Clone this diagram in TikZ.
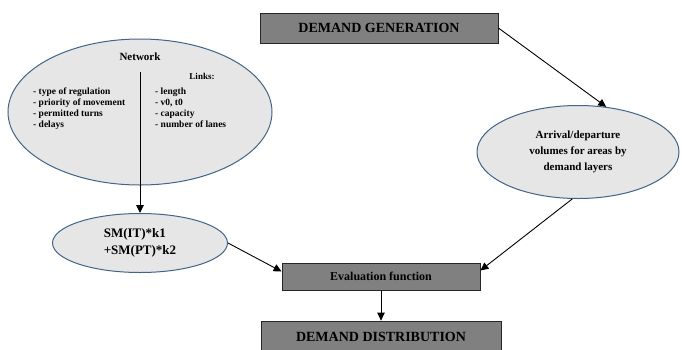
\documentclass[tikz,border=0pt]{standalone}
\usepackage{fontspec}
\setmainfont{Liberation Serif}
\usetikzlibrary{shapes.geometric,arrows.meta}
\begin{document}
\begin{tikzpicture}[x=1pt,y=-1pt,
    graybox/.style={shape=rectangle,draw=black!85,fill=dg_boxgray,line width=0.8pt,font=\bfseries\fontsize{14}{16}\selectfont},
    greyoval/.style={shape=ellipse,draw=dg_ovalline,fill=dg_ovalfill,line width=1pt,inner sep=0pt,font=\bfseries},
    listtext/.style={anchor=north west,align=left,inner sep=0pt,font=\bfseries\fontsize{9.5}{11}\selectfont},
    link/.style={-{Triangle[length=8pt,width=7.5pt]},line width=0.9pt}]
    \definecolor{dg_boxgray}{RGB}{128,128,128}
    \definecolor{dg_ovalfill}{RGB}{230,230,230}
    \definecolor{dg_ovalline}{RGB}{65,100,135}
    \useasboundingbox (0,0) rectangle (682,349);
    % boxes
    \node[graybox,minimum width=238pt,minimum height=30pt] (demgen) at (379,28) {DEMAND GENERATION};
    \node[graybox,minimum width=198pt,minimum height=27pt,font=\bfseries\fontsize{12}{14}\selectfont] (evalfn) at (381,276.5) {Evaluation function};
    \node[graybox,minimum width=240pt,minimum height=32pt] (demdist) at (381,337) {DEMAND DISTRIBUTION};
    % ellipses
    \node[greyoval,minimum width=264pt,minimum height=146pt] (network) at (140,112) {};
    \node[font=\bfseries\fontsize{11}{13}\selectfont] (nettitle) at (140,57) {Network};
    \node[font=\bfseries\fontsize{9}{11}\selectfont] (linkstitle) at (202,76) {Links:};
    \node[listtext] (netleft) at (33,88) {- type of regulation\\- priority of movement\\- permitted turns\\- delays};
    \node[listtext] (netright) at (155,88) {- length\\- v0, t0\\- capacity\\- number of lanes};
    \coordinate (netline) at (140,72);
    \node[greyoval,minimum width=175pt,minimum height=59pt,align=left,font=\bfseries\fontsize{13}{17}\selectfont] (smterm) at (140,243) {SM(IT)*k1\\+SM(PT)*k2};
    \node[greyoval,minimum width=202pt,minimum height=93pt,align=center,font=\bfseries\fontsize{11}{16}\selectfont] (arrival) at (578,152) {Arrival/departure\\volumes for areas by\\demand layers};
    % connectors
    \draw[link] (netline) -- (smterm.north);
    \draw[link] (demgen.east) -- (arrival.58);
    \draw[link] (smterm.east) -- ([yshift=5pt]evalfn.west);
    \draw[link] (arrival.-97) -- ([yshift=6pt]evalfn.east);
    \draw[link] (evalfn.south) -- (demdist.north);
\end{tikzpicture}
\end{document}
